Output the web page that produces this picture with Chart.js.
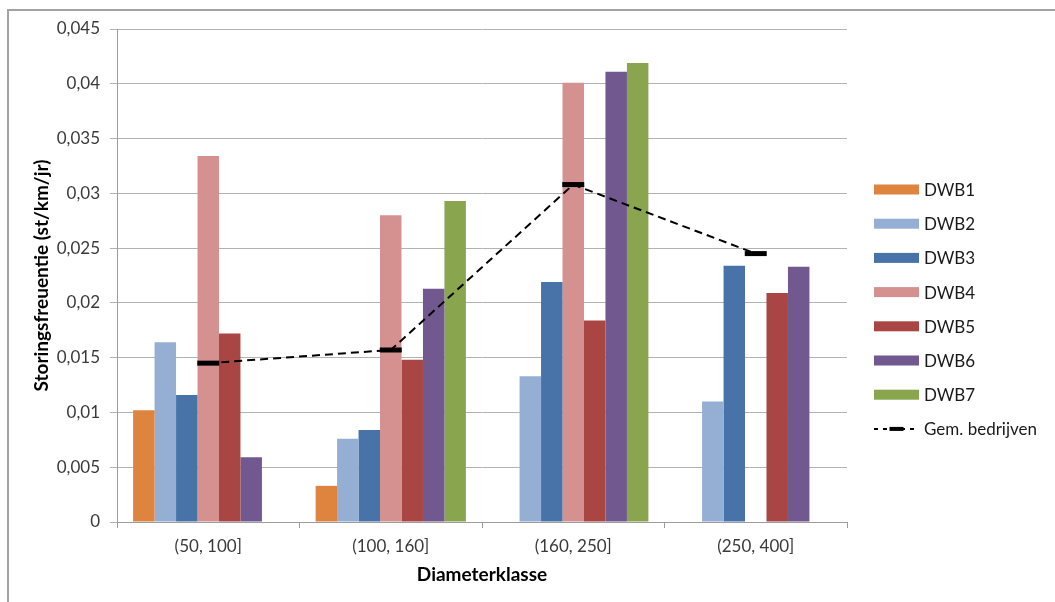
<!DOCTYPE html>
<html>
<head>
<meta charset="utf-8">
<title>Storingsfrequentie per diameterklasse</title>
<script src="https://cdn.jsdelivr.net/npm/chart.js@4/dist/chart.umd.min.js"></script>
<style>
  html, body { margin: 0; padding: 0; background: #ffffff; }
  #wrap { position: relative; width: 1055px; height: 602px; }
</style>
</head>
<body>
<div id="wrap"><canvas id="c" width="1055" height="602"></canvas></div>
<script>
// Diameter classes on the x axis
const categories = ['(50, 100]', '(100, 160]', '(160, 250]', '(250, 400]'];

// Failure frequency per water company (st/km/jr); null = no value in that class
const dwb1 = [0.0102, 0.0033, null, null];
const dwb2 = [0.0164, 0.0076, 0.0133, 0.0110];
const dwb3 = [0.0116, 0.0084, 0.0219, 0.0234];
const dwb4 = [0.0334, 0.0280, 0.0401, null];
const dwb5 = [0.0172, 0.0148, 0.0184, 0.0209];
const dwb6 = [0.0059, 0.0213, 0.0411, 0.0233];
const dwb7 = [null, 0.0293, 0.0419, null];

// Average over all companies
const gemBedrijven = [0.0145, 0.0157, 0.0308, 0.0245];

const seriesNames = ['DWB1', 'DWB2', 'DWB3', 'DWB4', 'DWB5', 'DWB6', 'DWB7'];
const lineName = 'Gem. bedrijven';

// y axis: 0 .. 0,045 in steps of 0,005
const yMin = 0;
const yMax = 0.045;
const yStep = 0.005;

const seriesValues = [dwb1, dwb2, dwb3, dwb4, dwb5, dwb6, dwb7];
const seriesColors = ['#de843e', '#95aed3', '#4873a9', '#d49190', '#a94543', '#71588e', '#89a54e'];

const FONT = 'Lato, "Open Sans", "Liberation Sans", sans-serif';
const TEXT = '#3a3a3a';
const GRID = '#b2b2b2';
const AXIS = '#9c9c9c';

const barDatasets = seriesNames.map((name, i) => ({
  type: 'bar',
  label: name,
  data: seriesValues[i],
  backgroundColor: seriesColors[i],
  borderWidth: 0,
  barPercentage: 1.0,
  categoryPercentage: 7 / 8.5,
  order: 1
}));

const lineDataset = {
  type: 'line',
  label: lineName,
  data: gemBedrijven,
  borderColor: '#000000',
  backgroundColor: '#000000',
  borderWidth: 2,
  borderDash: [8, 5],
  fill: false,
  tension: 0,
  pointStyle: 'line',
  pointRadius: 11,
  pointHoverRadius: 11,
  pointBorderWidth: 5,
  pointBorderColor: '#000000',
  pointBackgroundColor: '#000000',
  order: -1
};

// Outer frame of the chart object (left and top edges)
const framePlugin = {
  id: 'frame',
  beforeDraw(chart) {
    const ctx = chart.ctx;
    ctx.save();
    ctx.fillStyle = '#ffffff';
    ctx.fillRect(0, 0, chart.width, chart.height);
    ctx.strokeStyle = '#a3a3a3';
    ctx.lineWidth = 2;
    ctx.beginPath();
    ctx.moveTo(8, chart.height);
    ctx.lineTo(8, 10);
    ctx.lineTo(chart.width, 10);
    ctx.stroke();
    ctx.restore();
  }
};

// Vertical legend on the right, built from the datasets
const legendPlugin = {
  id: 'sideLegend',
  afterDraw(chart) {
    const ctx = chart.ctx;
    const area = chart.chartArea;
    const x0 = area.right + 27;
    const boxW = 45, boxH = 10;
    const rowH = 34.2;
    const y0 = 189.5;
    ctx.save();
    ctx.font = '17px ' + FONT;
    ctx.textBaseline = 'middle';
    ctx.textAlign = 'left';
    chart.data.datasets.forEach((ds, i) => {
      const y = y0 + i * rowH;
      if (ds.type === 'bar') {
        ctx.fillStyle = ds.backgroundColor;
        ctx.fillRect(x0, y - boxH / 2, boxW, boxH);
      } else {
        ctx.strokeStyle = ds.borderColor;
        ctx.lineWidth = 2;
        ctx.setLineDash([4, 5]);
        ctx.beginPath();
        ctx.moveTo(x0, y);
        ctx.lineTo(x0 + boxW, y);
        ctx.stroke();
        ctx.setLineDash([]);
        ctx.fillStyle = ds.pointBorderColor;
        ctx.fillRect(x0 + boxW / 2 - 7, y - 2, 14, 4);
      }
      ctx.fillStyle = '#1a1a1a';
      ctx.fillText(ds.label, x0 + boxW + 5, y + 1);
    });
    ctx.restore();
  }
};

new Chart(document.getElementById('c'), {
  data: {
    labels: categories,
    datasets: [...barDatasets, lineDataset]
  },
  options: {
    responsive: false,
    animation: false,
    devicePixelRatio: 1,
    events: [],
    layout: { padding: { left: 0, right: 208, top: 29, bottom: 0 } },
    plugins: {
      legend: { display: false },
      tooltip: { enabled: false },
      title: { display: false }
    },
    scales: {
      x: {
        offset: true,
        grid: {
          display: true,
          offset: true,
          drawOnChartArea: false,
          drawTicks: true,
          tickLength: 6,
          color: AXIS,
          lineWidth: 1
        },
        border: { display: true, color: AXIS, width: 1 },
        ticks: {
          color: TEXT,
          font: { family: FONT, size: 17 },
          padding: 8,
          maxRotation: 0
        },
        title: {
          display: true,
          text: 'Diameterklasse',
          color: '#000000',
          font: { family: FONT, size: 19, weight: 'bold' },
          padding: { top: 0, bottom: 16 }
        },
        afterFit(scale) { scale.height = 80; }
      },
      y: {
        min: yMin,
        max: yMax,
        grid: {
          color: GRID,
          lineWidth: 1,
          drawTicks: true,
          tickLength: 7
        },
        border: { display: true, color: AXIS, width: 1 },
        ticks: {
          stepSize: yStep,
          color: TEXT,
          font: { family: FONT, size: 17 },
          padding: 10,
          callback(value) {
            return String(parseFloat(Number(value).toFixed(3))).replace('.', ',');
          }
        },
        title: {
          display: true,
          text: 'Storingsfreuentie (st/km/jr)',
          color: '#000000',
          font: { family: FONT, size: 19, weight: 'bold' },
          padding: { top: 30, bottom: 0 }
        },
        afterFit(scale) { scale.width = 117; }
      }
    }
  },
  plugins: [framePlugin, legendPlugin]
});
</script>
</body>
</html>
